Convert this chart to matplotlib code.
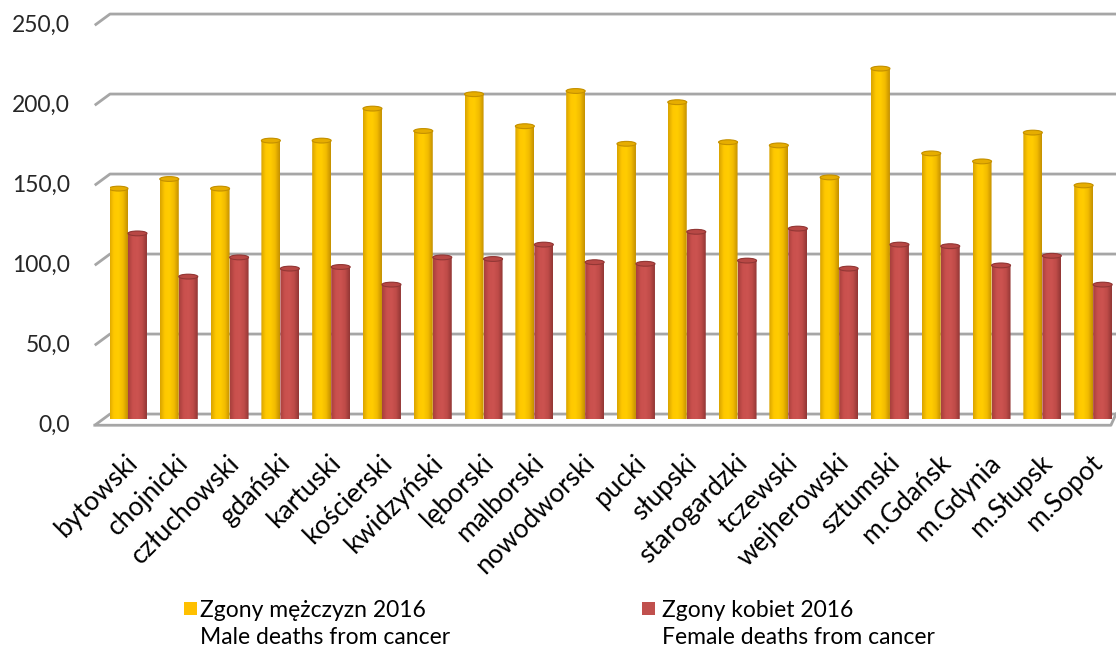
import numpy as np
import matplotlib
matplotlib.use("Agg")
from matplotlib import pyplot as plt
from matplotlib.colors import LinearSegmentedColormap
from matplotlib.patches import Ellipse, PathPatch, Rectangle
from matplotlib.path import Path

plt.rcParams["font.family"] = ["Lato", "DejaVu Sans"]

powiaty = ["bytowski", "chojnicki", "człuchowski", "gdański", "kartuski",
           "kościerski", "kwidzyński", "lęborski", "malborski", "nowodworski",
           "pucki", "słupski", "starogardzki", "tczewski", "wejherowski",
           "sztumski", "m.Gdańsk", "m.Gdynia", "m.Słupsk", "m.Sopot"]
men = [144, 150, 144, 174, 174, 194, 180, 203, 183, 205,
       172, 198, 173, 171, 151, 219, 166, 161, 179, 146]
women = [116, 89, 101, 94, 95, 84, 101, 100, 109, 98,
         97, 117, 99, 119, 94, 109, 108, 96, 102, 84]
yticks = [0, 50, 100, 150, 200, 250]
label_men = "Zgony mężczyzn 2016\nMale deaths from cancer"
label_women = "Zgony kobiet 2016\nFemale deaths from cancer"

W, H = 1116, 651
fig = plt.figure(figsize=(W / 100, H / 100), dpi=100)
ax = fig.add_axes([110 / W, 232 / H, 1006 / W, 400 / H])
ax.set_xlim(-0.354, 19.45)
ax.set_ylim(0, 250)
ax.axis("off")

grid_c = "#a6a6a6"
back = 3.1     # back wall offset (data units)
front = -3.9   # front edge offset
dx = 0.30      # depth shift in x
x0 = -0.354
for v in yticks:
    ax.plot([x0 - dx, x0, 19.45], [v + front, v + back, v + back],
            color=grid_c, lw=2, clip_on=False, zorder=1, solid_capstyle="butt")
    ax.text(-1.14, v + front, "{:.1f}".format(v).replace(".", ","),
            ha="right", va="center", fontsize=16.5, color="#262626")
# floor front edge
ax.plot([x0 - dx, 19.35, 19.45], [front, front, back], color=grid_c, lw=2,
        clip_on=False, zorder=1)


def cylinder(cx, w, v, cmap, cap, edge):
    h = 3.0
    t1 = np.linspace(np.pi, 2 * np.pi, 30)
    t2 = np.linspace(0, np.pi, 30)
    xs = np.concatenate([cx + w / 2 * np.cos(t1), cx + w / 2 * np.cos(t2)])
    ys = np.concatenate([h / 2 * np.sin(t1), v + h / 2 * np.sin(t2)])
    verts = np.column_stack([xs, ys])
    verts = np.vstack([verts, verts[:1]])
    path = Path(verts, closed=True)
    patch = PathPatch(path, facecolor="none", edgecolor="none", zorder=2)
    ax.add_patch(patch)
    grad = np.linspace(0, 1, 64).reshape(1, -1)
    im = ax.imshow(grad, cmap=cmap, extent=[cx - w / 2, cx + w / 2, -h, v + h],
                   aspect="auto", zorder=2, interpolation="bilinear")
    im.set_clip_path(patch)
    ax.add_patch(Ellipse((cx, v), w, h, facecolor=cap, edgecolor=edge,
                         lw=0.8, zorder=3))


yel = LinearSegmentedColormap.from_list(
    "yel", ["#d9a300", "#ffc800", "#ffcc00", "#f2bb00", "#c49000"])
red = LinearSegmentedColormap.from_list(
    "red", ["#a8403d", "#c9504d", "#cc5350", "#bf4b48", "#923735"])

bw = 0.374
x = np.arange(len(powiaty))
for i in x:
    cylinder(i - bw / 2, bw, men[i], yel, "#e6ad00", "#c49000")
    cylinder(i + bw / 2, bw, women[i], red, "#b84845", "#923735")
ax.set_xlim(-0.354, 19.45)
ax.set_ylim(0, 250)

for i, name in enumerate(powiaty):
    ax.text(i - 0.06, -19.5, name, rotation=45, rotation_mode="anchor",
            ha="right", va="top", fontsize=19, color="#000000")

# legend
fig.patches.append(Rectangle((184 / W, 1 - 615 / H), 13 / W, 13 / H,
                             facecolor="#ffc000", transform=fig.transFigure))
fig.patches.append(Rectangle((642 / W, 1 - 615 / H), 13 / W, 13 / H,
                             facecolor="#c0504d", transform=fig.transFigure))
fig.text(200 / W, 1 - 624 / H, label_men, fontsize=16.5, va="center",
         linespacing=1.4, color="#000000")
fig.text(662 / W, 1 - 624 / H, label_women, fontsize=16.5, va="center",
         linespacing=1.4, color="#000000")

fig.savefig("out.png", dpi=100)
